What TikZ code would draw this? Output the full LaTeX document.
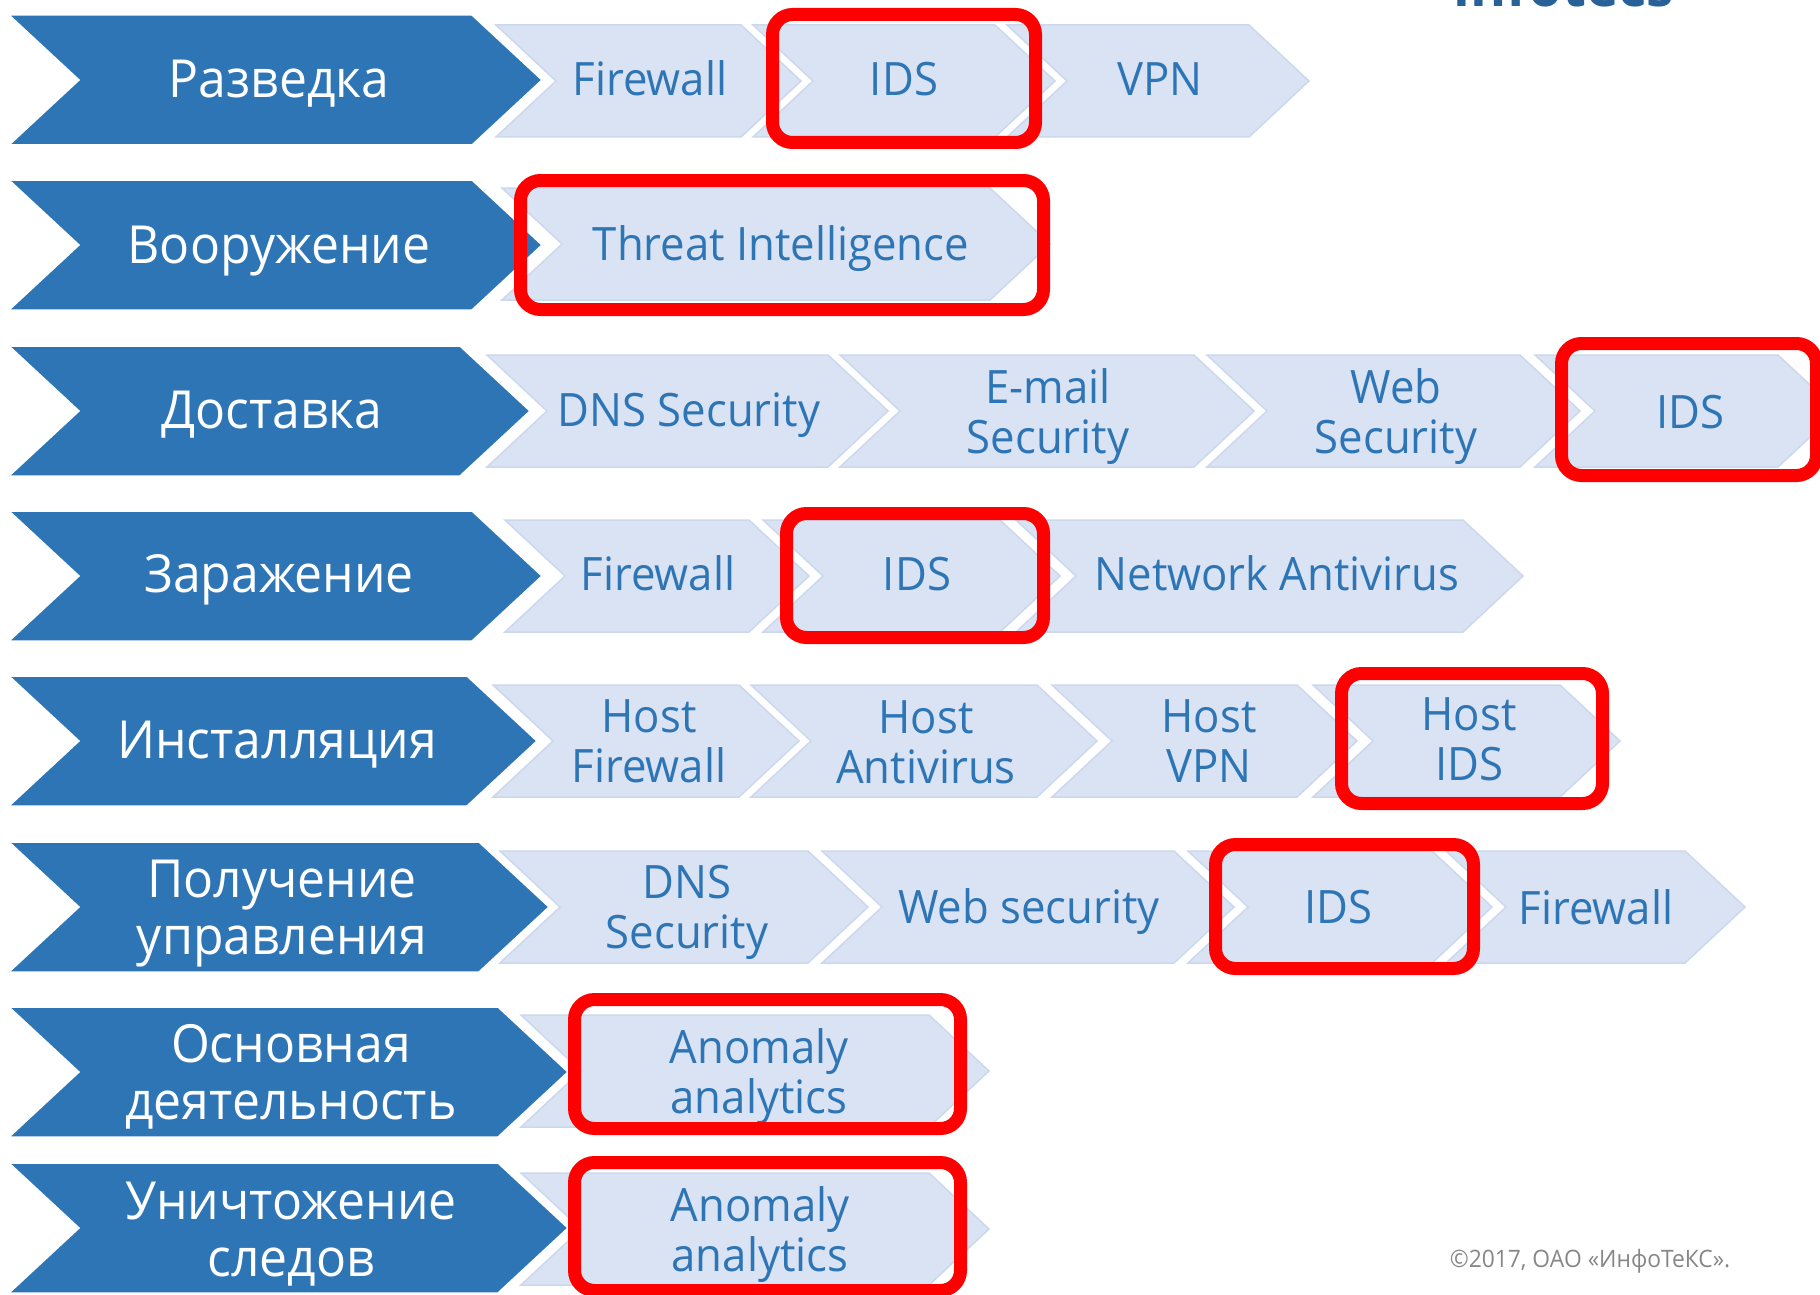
\documentclass[tikz,border=0pt]{standalone}
\usepackage{fontspec}
\setmainfont{Open Sans}[FakeStretch=0.95]
\definecolor{chevblue}{RGB}{46,117,182}
\definecolor{chevlight}{RGB}{218,227,243}
\definecolor{chevedge}{RGB}{203,216,237}
\definecolor{txtblue}{RGB}{46,117,182}
\definecolor{logoblue}{RGB}{40,96,152}
\definecolor{copygray}{RGB}{135,135,135}
\newcommand{\chevshape}[6]{\path[#1] (#2,#4-#5) -- (#3-#6,#4-#5) -- (#3,#4) -- (#3-#6,#4+#5) -- (#2,#4+#5) -- (#2+#6,#4) -- cycle;}
\newcommand{\stagechev}[2]{\chevshape{bluechev}{9}{#1}{#2}{65}{70}}
\newcommand{\toolchev}[3]{\chevshape{lightchev}{#1}{#2}{#3}{56}{60}}
\newcommand{\redframebox}[4]{\draw[redframe] (#1+6.5,#3+6.5) rectangle (#2-6.5,#4-6.5);}
\begin{document}
\begin{tikzpicture}[x=1pt,y=-1pt,
  bluechev/.style={fill=chevblue, draw=white, line width=1.5},
  lightchev/.style={fill=chevlight, draw=chevedge, line width=1.5},
  redframe/.style={draw=red, line width=13, rounded corners=20},
  stagetext/.style={text=white, font=\fontsize{52.5}{57}\selectfont, align=center, inner sep=0},
  tooltext/.style={text=txtblue, font=\fontsize{46}{50}\selectfont, align=center, inner sep=0},
  logotext/.style={text=logoblue, font=\fontsize{58}{60}\selectfont\bfseries, inner sep=0, anchor=base},
  copytext/.style={text=copygray, font=\fontsize{24}{28}\selectfont, inner sep=0, anchor=base},
]
\path[use as bounding box, clip] (0,0) rectangle (1820,1295);
\fill[white] (0,0) rectangle (1820,1295);

% logo (cut at the top edge, as in the reference)
\node[logotext] (logo) at (1564,7) {infotecs};

% ---------- row 1
\stagechev{542}{80}
\toolchev{496}{801}{81}
\toolchev{753}{1055}{81}
\toolchev{1007}{1309}{81}
\node[stagetext] (s1) at (279,83.5) {Разведка};
\node[tooltext] (r1a) at (650,78.7) {Firewall};
\node[tooltext] (r1b) at (904,78.7) {IDS};
\node[tooltext] (r1c) at (1160,78.7) {VPN};
\redframebox{766}{1042}{8}{149}

% ---------- row 2
\stagechev{542}{245}
\toolchev{502}{1050}{244}
\node[stagetext] (s2) at (279,251) {Вооружение};
\node[tooltext] (r2a) at (781,248.6) {Threat Intelligence};
\redframebox{514}{1050}{174}{316}

% ---------- row 3
\stagechev{530}{411}
\toolchev{487}{888}{411}
\toolchev{840}{1254}{411}
\toolchev{1207}{1580}{411}
\toolchev{1535}{1838}{411}
\node[stagetext] (s3) at (272,414.5) {Доставка};
\node[tooltext] (r3a) at (689,415.6) {DNS Security};
\node[tooltext] (r3b) at (1048,417) {E-mail\\Security};
\node[tooltext] (r3c) at (1396,417) {Web\\Security};
\node[tooltext] (r3d) at (1690,412) {IDS};
\redframebox{1555}{1823}{337}{482}

% ---------- row 4
\stagechev{542}{576}
\toolchev{505}{809}{576}
\toolchev{763}{1060}{576}
\toolchev{1016}{1523}{576}
\node[stagetext] (s4) at (279,579.5) {Заражение};
\node[tooltext] (r4a) at (658,573.7) {Firewall};
\node[tooltext] (r4b) at (917,573.7) {IDS};
\node[tooltext] (r4c) at (1277,573.7) {Network Antivirus};
\redframebox{780}{1050}{507}{644}

% ---------- row 5
\stagechev{537}{741}
\toolchev{493}{799}{741}
\toolchev{751}{1097}{741}
\toolchev{1052}{1357}{741}
\toolchev{1313}{1620}{741}
\node[stagetext] (s5) at (277,744.5) {Инсталляция};
\node[tooltext] (r5a) at (649,741) {Host\\Firewall};
\node[tooltext] (r5b) at (926,742) {Host\\Antivirus};
\node[tooltext] (r5c) at (1209,741) {Host\\VPN};
\node[tooltext] (r5d) at (1469,739) {Host\\IDS};
\redframebox{1335}{1609}{667}{810}

% ---------- row 6
\stagechev{549}{907}
\toolchev{500}{868}{907}
\toolchev{822}{1234}{907}
\toolchev{1188}{1492}{907}
\toolchev{1446}{1745}{907}
\node[stagetext] (s6) at (282,914) {Получение\\управления};
\node[tooltext] (r6a) at (687,912) {DNS\\Security};
\node[tooltext] (r6b) at (1029,911.6) {Web security};
\node[tooltext] (r6c) at (1338,907) {IDS};
\node[tooltext] (r6d) at (1596,907) {Firewall};
\redframebox{1209}{1480}{838}{975}

% ---------- row 7
\stagechev{568}{1072}
\toolchev{521}{989}{1071}
\node[stagetext] (s7) at (291,1076.5) {Основная\\деятельность};
\node[tooltext] (r7a) at (759,1076.5) {Anomaly\\analytics};
\redframebox{568}{967}{993}{1135}

% ---------- row 8
\stagechev{568}{1228}
\toolchev{521}{989}{1229}
\node[stagetext] (s8) at (291,1234) {Уничтожение\\следов};
\node[tooltext] (r8a) at (760,1235) {Anomaly\\analytics};
\redframebox{568}{967}{1156}{1297}

% copyright
\node[copytext] (copy) at (1590,1267) {©2017, ОАО «ИнфоТеКС».};
\end{tikzpicture}
\end{document}
